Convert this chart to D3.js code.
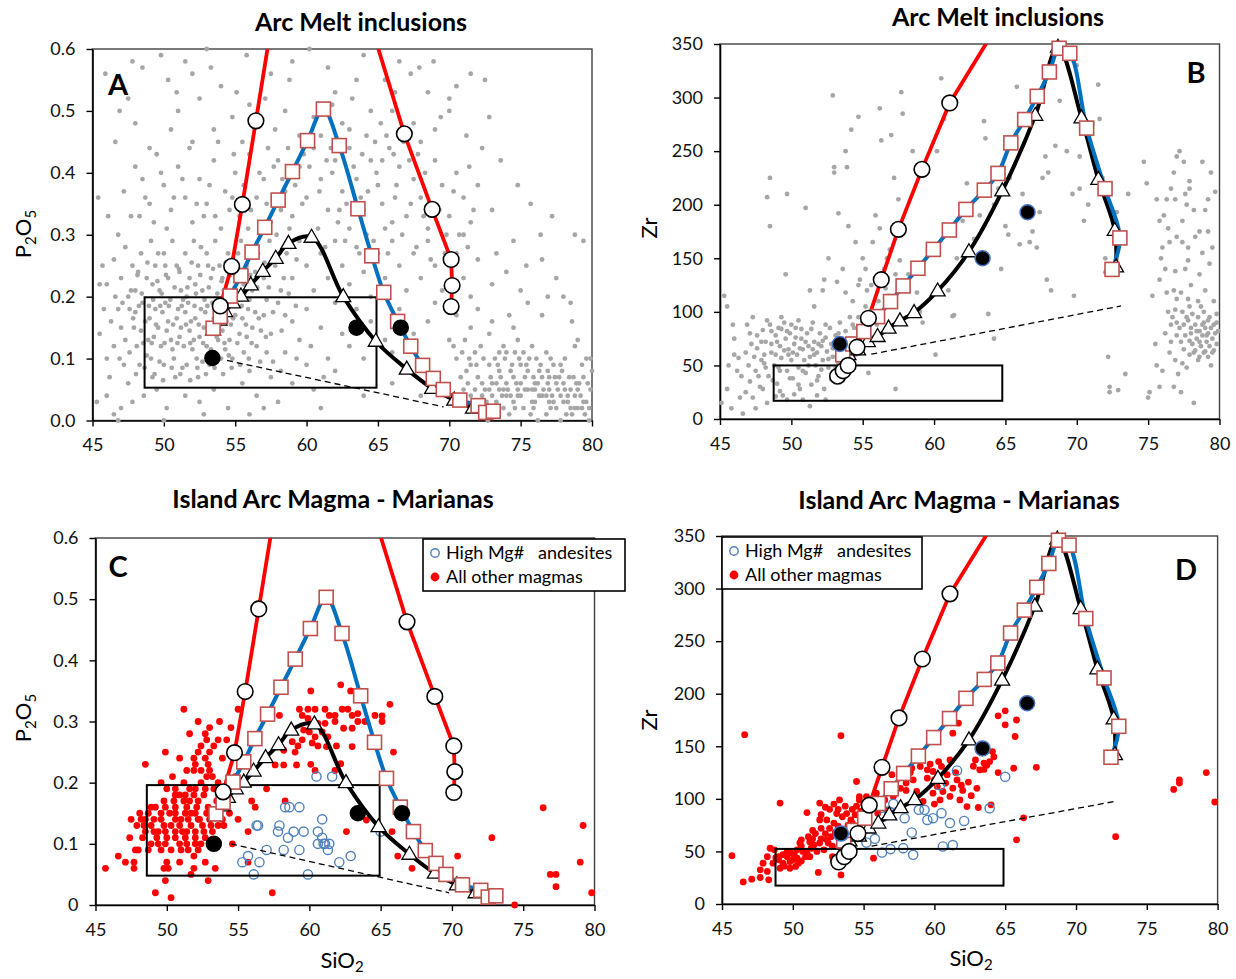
<!DOCTYPE html>
<html>
<head>
<meta charset="utf-8">
<script src="https://cdn.jsdelivr.net/npm/d3@7"></script>
<style>
  body { margin: 0; background: #fff; }
  svg text { font-family: Lato, "Open Sans", sans-serif; }
</style>
</head>
<body>
<svg id="fig" width="1236" height="979"></svg>
<script>

// Axis ticks
const siTicks = [45, 50, 55, 60, 65, 70, 75, 80];
const pTicks = [0, 0.1, 0.2, 0.3, 0.4, 0.5, 0.6];
const zrTicks = [0, 50, 100, 150, 200, 250, 300, 350];

// ---- model curves, P2O5 panels (A, C)
const pRedLeft = [[53.95,0.185],[54.75,0.249],[55.5,0.349],[56.45,0.484],[57.4,0.62]];
const pRedRight = [[64.9,0.61],[66.85,0.463],[68.8,0.341],[70.13,0.26],[70.2,0.218],[70.13,0.184]];
const pSquares = [[53.45,0.149],[53.95,0.168],[54.65,0.201],[55.4,0.234],[56.18,0.272],[57.07,0.312],[58.01,0.356],[59.01,0.402],[60.07,0.452],[61.18,0.503],[62.29,0.444],[63.6,0.342],[64.57,0.266],[65.41,0.207],[66.38,0.16],[67.3,0.12],[68.13,0.089],[68.88,0.068],[69.58,0.05],[70.74,0.033],[72.02,0.024],[72.55,0.013],[73.08,0.015]];
const pTriangles = [[53.45,0.146],[53.9,0.162],[54.29,0.176],[54.84,0.19],[55.4,0.201],[56.09,0.219],[56.93,0.241],[57.84,0.262],[58.73,0.286],[60.35,0.296],[62.57,0.2],[64.85,0.128],[67.02,0.083],[68.8,0.052],[70.35,0.033],[71.66,0.02],[72.77,0.013]];
const pDotsA = [[53.4,0.101],[63.5,0.15],[66.6,0.15]];
const pDotsC = [[53.3,0.1],[63.4,0.15],[66.5,0.15]];
const pDashA = [[54.42,0.097],[69.6,0.022]];
const pDashC = [[54.5,0.1],[69.8,0.02]];
const rectA = [48.65, 64.9, 0.053, 0.199];
const rectC = [48.6, 64.93, 0.048, 0.196];

// ---- model curves, Zr panels (B, D)
const zrRed = [[53.24,40],[53.63,45],[53.98,50],[54.6,67],[55.4,94],[56.3,130],[57.5,177],[59.15,233],[61.1,295],[64.0,358]];
const zrSquares = [[53.6,60],[54.3,70],[55.08,81.6],[56.04,95.6],[56.95,109.6],[57.83,124.2],[58.87,140.7],[59.95,158.3],[61.07,176.4],[62.23,195.6],[63.52,213.6],[64.48,229.2],[65.38,257.7],[66.35,279.5],[67.23,301.2],[68.08,323.9],[68.76,346],[69.51,341.3],[70.69,271.5],[71.98,215],[73.02,169],[72.47,139.6]];
const zrTriangles = [[54.0,60],[54.67,64.5],[55.36,72.3],[56.04,77],[56.81,84.8],[57.61,91.6],[58.6,99.3],[60.25,119.5],[62.44,156.1],[64.78,212.9],[67.09,283.3],[68.68,347],[70.33,281],[71.51,223.6],[72.66,176],[72.75,142]];
const zrDotsB = [[53.4,70],[63.4,150],[66.55,193]];
const zrDotsD = [[53.4,67],[63.4,148],[66.55,191]];
const zrDashB = [[55.6,60.5],[73.1,105.5]];
const zrDashD = [[55.56,55],[72.8,97.7]];
const rectB = [48.76, 64.78, 17, 50];
const rectD = [48.78, 64.88, 17.5, 52.4];

// ---- arc melt inclusions (gray), panel A
const grayA = [
[48.5,0.57],[49.8,0.59],[50.3,0.55],[51.5,0.58],[52.0,0.56],[53.0,0.6],[52.5,0.52],[54.0,0.54],[55.8,0.59],[57.5,0.56],[58.5,0.5],[59.0,0.58],[60.2,0.6],[61.5,0.57],[62.0,0.53],[63.5,0.55],[64.0,0.59],[64.5,0.5],[65.5,0.55],[66.5,0.58],[67.3,0.56],[67.9,0.57],[68.5,0.53],[70.0,0.52],[70.5,0.54],[71.5,0.56],[72.5,0.55],[57.8,0.47],[59.5,0.46],[60.5,0.49],[61.0,0.46],[62.5,0.48],[63.0,0.47],[64.2,0.46],[65.2,0.48],[66.0,0.5],[67.5,0.48],[68.0,0.45],[53.5,0.47],[54.8,0.49],[55.5,0.45],[50.5,0.47],[51.0,0.5],[48.0,0.48],[47.5,0.52],[49.0,0.44],[52.0,0.45],[56.0,0.51],[70.0,0.5],[69.0,0.47],
[47.2,0.37],[48.0,0.41],[48.5,0.39],[49.0,0.35],[49.5,0.43],[50.0,0.38],[50.5,0.34],[51.0,0.41],[51.5,0.36],[52.0,0.32],[52.5,0.39],[53.0,0.35],[53.5,0.42],[54.0,0.31],[54.3,0.37],[55.0,0.40],[55.3,0.33],[56.0,0.43],[56.5,0.36],[57.0,0.39],[57.5,0.32],[58.0,0.42],[58.5,0.37],[59.0,0.33],[59.5,0.41],[60.0,0.36],[60.5,0.44],[61.0,0.39],[61.5,0.34],[62.0,0.42],[62.5,0.37],[63.0,0.31],[63.0,0.44],[63.5,0.39],[64.0,0.34],[64.5,0.42],[65.0,0.38],[65.5,0.31],[65.8,0.44],[66.2,0.36],[66.5,0.41],[67.0,0.33],[67.5,0.39],[68.0,0.36],[68.5,0.31],[69.0,0.42],[69.5,0.38],[70.0,0.33],[70.5,0.40],[71.0,0.36],[71.5,0.32],[72.0,0.38],[48.3,0.33],[50.2,0.31],[51.8,0.44],[53.8,0.45],[55.6,0.38],[57.3,0.44],[58.8,0.31],[60.8,0.31],[62.8,0.35],[64.8,0.45],[66.8,0.45],[67.8,0.43],[60.2,0.41],[61.8,0.40],[59.2,0.38],[63.8,0.36],[65.3,0.35],[58.2,0.34],[56.8,0.32],[54.6,0.34],[52.8,0.33],[62.2,0.32],[64.2,0.30],[66.0,0.32],[68.2,0.33],[69.8,0.30],[73.0,0.34],[76.4,0.3],[74.5,0.29],[78.8,0.3],
[46.0,0.22],[46.5,0.26],[47.0,0.23],[47.3,0.28],[47.8,0.25],[48.0,0.21],[48.4,0.27],[48.8,0.23],[49.1,0.29],[49.4,0.25],[49.7,0.21],[50.0,0.27],[50.3,0.23],[50.6,0.29],[50.9,0.25],[51.2,0.21],[51.5,0.27],[51.8,0.23],[52.1,0.29],[52.4,0.25],[52.7,0.21],[53.0,0.27],[53.3,0.23],[53.6,0.29],[53.9,0.25],[54.2,0.21],[54.5,0.27],[55.0,0.23],[55.4,0.29],[55.8,0.25],[56.2,0.21],[56.6,0.27],[57.0,0.23],[57.4,0.29],[57.8,0.25],[58.2,0.21],[58.6,0.27],[59.0,0.23],[59.5,0.29],[60.0,0.25],[60.5,0.21],[61.0,0.27],[61.5,0.23],[62.0,0.29],[62.5,0.25],[63.0,0.22],[63.5,0.28],[64.0,0.24],[64.5,0.2],[65.0,0.27],[65.5,0.23],[66.0,0.29],[66.5,0.25],[67.0,0.21],[67.5,0.27],[68.0,0.23],[68.5,0.29],[69.0,0.25],[69.5,0.21],[70.5,0.27],[71.0,0.23],[71.5,0.2],[72.0,0.26],[73.0,0.22],[74.0,0.24],[75.0,0.21],[76.5,0.26],[77.5,0.23],[78.5,0.19],[48.2,0.24],[49.2,0.22],[50.1,0.25],[51.1,0.24],[52.2,0.22],[53.1,0.25],[54.1,0.23],[49.6,0.27],[51.6,0.2],[52.6,0.28],[54.7,0.2],[55.6,0.22],[56.4,0.24],[57.6,0.26],[58.4,0.23],[59.3,0.26],[47.5,0.2],[46.8,0.3],[45.5,0.22],
[47.6,0.18],[47.9,0.15],[48.1,0.12],[48.3,0.09],[48.5,0.19],[48.7,0.16],[48.9,0.13],[49.1,0.10],[49.2,0.07],[49.4,0.18],[49.6,0.15],[49.8,0.12],[50.0,0.09],[50.1,0.19],[50.3,0.16],[50.5,0.13],[50.7,0.10],[50.8,0.07],[51.0,0.18],[51.2,0.15],[51.4,0.12],[51.6,0.09],[51.7,0.19],[51.9,0.16],[52.1,0.13],[52.3,0.10],[52.4,0.07],[52.6,0.18],[52.8,0.15],[53.0,0.12],[53.2,0.09],[53.4,0.19],[53.6,0.16],[53.8,0.13],[54.0,0.10],[54.2,0.19],[54.4,0.16],[54.6,0.13],[54.8,0.10],[55.0,0.17],[55.3,0.14],[55.6,0.11],[55.9,0.18],[56.2,0.15],[56.5,0.12],[57.0,0.17],[57.5,0.14],[58.0,0.19],[58.5,0.11],[59.0,0.16],[48.0,0.175],[48.4,0.145],[48.8,0.105],[49.0,0.165],[49.3,0.135],[49.7,0.095],[49.9,0.175],[50.2,0.145],[50.6,0.115],[50.9,0.165],[51.1,0.135],[51.3,0.085],[51.5,0.175],[51.8,0.145],[52.0,0.115],[52.2,0.165],[52.5,0.135],[52.7,0.095],[52.9,0.175],[53.1,0.145],[53.3,0.115],[53.5,0.165],[53.7,0.135],[53.9,0.175],[54.1,0.145],[54.3,0.115],[54.5,0.185],[54.7,0.155],[55.2,0.195],[55.5,0.165],[55.8,0.135],[56.0,0.195],[56.4,0.175],[56.8,0.145],[57.2,0.195],[46.5,0.12],[47.0,0.15],[47.2,0.09],[46.8,0.18],[47.5,0.06],[46.0,0.1],[45.5,0.14],[47.8,0.03],[48.6,0.04],[49.5,0.05],[50.2,0.02],[51.5,0.04],[52.5,0.03],[53.5,0.05],[54.5,0.02],[55.5,0.06],[56.5,0.04],[57.5,0.07],[58.0,0.03],[59.0,0.06],[60.0,0.09],[60.5,0.05],[61.5,0.1],[62.0,0.08],[63.0,0.12],[64.0,0.1],[65.5,0.13],[66.5,0.18],[67.5,0.14],[68.5,0.16],[69.0,0.19],[70.0,0.13],[70.5,0.17],[71.5,0.15],[72.0,0.18],[58.5,0.17],[59.5,0.13],[60.0,0.18],[61.0,0.15],[62.0,0.19],[62.5,0.14],[63.5,0.18],[64.5,0.16],[66.0,0.11],[67.0,0.09],[46.8,0.0],[47.0,0.02],[50.0,0.0],[52.8,0.01],[56.0,0.01],[57.0,0.02],[61.0,0.02],[64.0,0.04],[66.0,0.06],[68.0,0.04],[56.0,0.08],[57.2,0.11],[58.2,0.08],[59.3,0.1],[60.3,0.12],[61.2,0.07],
[47.7,0.21],[48.15,0.235],[48.45,0.205],[48.85,0.255],[49.25,0.195],[49.55,0.225],[49.85,0.205],[50.15,0.235],[50.45,0.195],[50.75,0.215],[51.05,0.245],[51.35,0.195],[51.65,0.215],[51.95,0.255],[52.25,0.205],[52.55,0.235],[52.85,0.195],[53.15,0.215],[53.45,0.245],[53.75,0.205],[54.05,0.225],[54.35,0.255],[54.65,0.235],[54.95,0.215],[55.25,0.245],[55.65,0.205],[56.05,0.235],[56.55,0.215],[57.05,0.255],[57.35,0.215],
[47.85,0.165],[48.25,0.185],[48.55,0.125],[48.95,0.185],[49.15,0.125],[49.45,0.155],[49.75,0.185],[50.05,0.125],[50.35,0.185],[50.65,0.155],[50.95,0.125],[51.25,0.185],[51.55,0.155],[51.85,0.125],[52.15,0.185],[52.45,0.155],[52.75,0.125],[53.05,0.185],[53.35,0.155],[53.65,0.105],[53.95,0.155],[54.25,0.125],[54.55,0.105],[54.85,0.165],[55.15,0.125],[55.45,0.185],[55.75,0.155],[56.15,0.125],[56.65,0.165],[57.15,0.135],[57.65,0.175],[58.25,0.145],[58.75,0.205],[59.25,0.185],
[48.05,0.075],[48.65,0.085],[49.35,0.075],[49.95,0.065],[50.55,0.085],[51.15,0.075],[51.85,0.065],[52.35,0.085],[52.95,0.075],[53.55,0.085],[54.15,0.075],[54.75,0.085],[55.35,0.09],[55.95,0.1],[56.75,0.095],[57.65,0.095],[46.3,0.16],[46.6,0.2],[47.1,0.19],[47.3,0.13],[46.9,0.1],[47.6,0.11],[45.8,0.18],[46.2,0.07],
[55.2,0.27],[55.9,0.31],[56.3,0.28],[57.2,0.35],[57.9,0.3],[58.3,0.39],[58.9,0.28],[59.7,0.35],[60.3,0.3],[60.9,0.37],[61.3,0.28],[61.7,0.44],[62.3,0.34],[62.7,0.29],[63.3,0.41],[63.7,0.27],[64.3,0.37],[64.7,0.29],[65.3,0.42],[65.7,0.27],[66.3,0.38],[66.7,0.3],[67.3,0.35],[67.7,0.28],[68.3,0.4],[68.7,0.26],[69.3,0.34],[69.7,0.27],[70.3,0.37],[70.7,0.3],[71.3,0.28],[71.7,0.34],[59.8,0.43],[62.6,0.45],[65.6,0.46],[67.2,0.42],[64.9,0.4],[66.1,0.43],[63.9,0.43],[61.4,0.42],[58.7,0.44],[57.7,0.41],[56.7,0.4],[54.9,0.43],[53.2,0.38],[51.3,0.39],[50.7,0.36],[49.3,0.32],[49.8,0.4],[48.7,0.36],[47.7,0.33],[52.3,0.35],[53.6,0.33],[54.8,0.36],[56.1,0.34],
[70.5,0.1],[71.2,0.08],[71.8,0.11],[72.3,0.06],[72.8,0.09],[73.2,0.1],[73.6,0.07],[74.0,0.11],[74.3,0.08],[74.7,0.06],[75.0,0.09],[75.3,0.07],[75.6,0.1],[76.0,0.06],[76.3,0.08],[76.6,0.05],[77.0,0.07],[77.3,0.09],[77.6,0.05],[78.0,0.06],[78.3,0.04],[78.7,0.07],[79.0,0.05],[79.4,0.03],[79.7,0.06],[71.0,0.05],[71.5,0.04],[72.0,0.03],[72.5,0.05],[73.0,0.04],[73.5,0.05],[74.0,0.04],[74.5,0.03],[75.0,0.04],[75.5,0.05],[76.0,0.03],[76.5,0.04],[77.0,0.03],[77.5,0.02],[78.0,0.03],[78.5,0.02],[79.0,0.02],[79.5,0.01],[73.0,0.06],[74.0,0.06],[75.0,0.06],[76.0,0.05],[77.0,0.05],[73.5,0.08],[74.5,0.07],[75.5,0.08],[76.5,0.07],[77.5,0.06],[78.5,0.05],[72.0,0.07],[71.5,0.09],[70.8,0.07],[73.8,0.02],[75.2,0.02],[76.8,0.01],[78.2,0.01],[74.2,0.01],[72.7,0.0],[76.2,0.0],[79.8,0.0],[77.8,0.0],[75.7,0.01],[79.2,0.04],[78.8,0.04],[77.2,0.04],[76.2,0.06],[75.8,0.03],[74.8,0.05],[73.3,0.03],[72.3,0.02],[80.0,0.08],[79.6,0.1],[78.8,0.12],[77.8,0.09],[76.8,0.11],[75.8,0.12],[74.8,0.13],[73.8,0.12],[72.8,0.14],[76.5,0.17],[75.5,0.19],[74.2,0.17],[73.0,0.16],[79.0,0.13],[78.0,0.2],
[70.9,0.11],[71.4,0.1],[71.9,0.09],[72.4,0.1],[72.9,0.07],[73.4,0.09],[73.9,0.1],[74.4,0.09],[74.9,0.1],[75.4,0.09],[75.9,0.07],[76.4,0.09],[76.9,0.08],[77.4,0.07],[77.9,0.08],[78.4,0.07],[78.9,0.06],[79.4,0.07],[79.9,0.05],[71.3,0.06],[71.8,0.05],[72.3,0.04],[72.8,0.05],[73.3,0.06],[73.8,0.05],[74.3,0.04],[74.8,0.04],[75.3,0.05],[75.8,0.05],[76.3,0.04],[76.8,0.04],[77.3,0.03],[77.8,0.04],[78.3,0.03],[78.8,0.02],[79.3,0.02],[79.8,0.02],[74.6,0.02],[75.9,0.02],[77.1,0.02],[78.6,0.01],[79.6,0.03],[73.1,0.02],[72.6,0.03],[76.9,0.06],[78.1,0.05],[79.1,0.06],[77.7,0.07],[74.1,0.05],[73.7,0.04],[70.3,0.12],[71.1,0.13],[72.2,0.12],[73.5,0.11],[74.6,0.11],[75.2,0.11],[76.1,0.1],[77.1,0.1],[78.1,0.1],[79.3,0.09],[79.9,0.1],
[45.3,0.03],[46.0,0.04],[46.5,0.01],[45.7,0.25],[46.1,0.33],[45.4,0.36],[46.6,0.45],[46.9,0.5],[47.8,0.58],[45.9,0.56],[50.9,0.53],[53.3,0.57],[55.1,0.53],[57.1,0.52],[58.8,0.55],[61.8,0.51],[63.2,0.52],[66.2,0.53],[68.9,0.58],[69.4,0.49],[71.2,0.46],[72.8,0.49],[73.6,0.42],[74.8,0.38],[75.7,0.35],[77.2,0.33],[79.4,0.29],[73.3,0.27],[75.4,0.25],[76.9,0.2],[74.5,0.15],[78.6,0.16],[71.0,0.3],[72.3,0.44],[71.4,0.41]
];

// ---- arc melt inclusions (gray), panel B
const grayB = [
[45.1,15],[45.3,115],[45.5,105],[45.5,28],[46.0,60],[46.3,57],[46.4,20],[46.6,5],[46.8,25],[46.9,88],[47.1,35],[47.2,70],[47.3,95],[47.5,45],[47.6,66],[47.8,30],[47.9,55],[48.0,83],[48.2,72],[48.3,15],[48.4,40],[48.5,88],[48.6,62],[48.8,50],[48.9,78],[49.0,33],[49.1,85],[49.2,68],[49.3,57],[49.4,22],[49.5,90],[49.6,75],[49.7,45],[49.8,65],[49.9,80],[50.0,55],[50.1,38],[50.2,70],[50.3,85],[50.4,60],[50.5,48],[50.6,28],[50.7,75],[50.8,65],[50.9,55],[51.0,43],[51.1,80],[51.2,68],[51.3,58],[51.4,32],[51.5,90],[51.6,72],[51.7,50],[51.8,62],[51.9,40],[52.0,80],[52.1,68],[52.2,55],[52.3,28],[52.4,76],[52.5,63],[52.6,48],[52.7,85],[52.8,70],[52.9,58],[53.0,40],[53.1,78],[53.2,65],[53.3,52],[53.4,90],[53.5,73],[53.6,60],[53.7,45],[53.8,82],[53.9,68],[54.0,55],[54.1,95],[54.2,75],[54.3,62],[54.4,85],[54.6,70],[54.8,78],[55.0,90],[55.2,72],[55.4,82],[55.7,76],[56.0,88],[48.2,48],[48.7,36],[49.2,26],[49.7,18],[50.2,23],[50.8,18],[51.3,12],[51.8,22],[52.4,18],[47.0,50],[47.6,78],[48.1,60],[49.0,72],[49.8,60],[50.6,66],[51.5,65],[52.2,73],[48.6,82],[49.3,84],[50.0,88],[50.7,84],[46.5,40],[47.3,20],[45.8,10],
[46.2,45],[46.8,62],[47.1,80],[47.4,58],[47.7,40],[47.9,72],[48.1,52],[48.3,92],[48.6,70],[48.9,60],[49.1,48],[49.3,95],[49.5,64],[49.7,82],[49.9,38],[50.1,62],[50.3,76],[50.5,92],[50.8,45],[51.0,72],[51.2,50],[51.4,84],[51.6,60],[51.9,70],[52.1,46],[52.4,88],[52.6,56],[52.9,66],[53.1,48],[53.3,80],[53.6,68],[53.8,55],[54.0,72],[54.3,88],[54.5,60],[54.7,95],[55.0,80],[55.2,105],[55.5,92],[55.8,100],[56.1,110],[56.4,98],[56.6,122],[57.0,105],[57.3,135],[55.6,125],[56.9,158],[57.6,148],[55.2,140],[54.7,125],[53.8,118],[53.2,128],[52.2,120],[51.6,105],[49.2,45],[48.0,28],[47.5,10],[48.9,21],[50.5,32],[51.8,36],[52.8,37],[53.6,36],[46.0,75],[45.6,50],[45.9,88],
[48.5,180],[48.5,225],[48.3,207],[49.7,210],[49.6,135],[51.0,197],[51.3,120],[52.3,130],[52.6,150],[52.9,302],[53.0,235],[53.0,230],[53.3,192],[53.6,140],[53.8,250],[53.9,235],[54.0,180],[54.2,270],[54.3,110],[54.5,165],[54.7,282],[54.8,130],[55.0,150],[55.3,120],[55.7,165],[55.9,190],[56.2,178],[56.2,290],[56.3,260],[56.5,140],[56.7,150],[56.8,115],[57.0,265],[57.2,225],[57.5,205],[57.7,305],[57.8,285],[58.2,135],[58.5,250],[58.8,118],[59.0,100],[59.2,90],[60.2,250],[60.5,318],[60.7,280],[61.0,120],[61.4,97],[61.6,150],[62.0,185],[62.3,220],[62.8,168],[63.2,190],[63.5,278],[63.6,262],[63.8,98],[64.2,200],[64.5,215],[64.7,140],[65.0,180],[65.2,172],[65.3,225],[65.8,310],[66.0,163],[66.2,210],[66.4,195],[66.6,195],[66.9,175],[67.2,160],[67.4,193],[67.6,225],[67.8,245],[68.0,230],[68.2,120],[68.5,255],[68.8,297],[69.3,250],[69.7,210],[70.0,330],[70.2,215],[70.5,185],[70.8,200],[71.1,275],[71.5,312],[71.6,280],[71.8,215],[72.0,137],[72.0,150],[72.2,58],[72.3,30],[72.3,25],[72.9,27],[73.4,42],[73.6,210],[71.8,225],[72.8,193],[64.2,75],[57.3,28],[55.4,43],[60.1,60],[61.3,96],[66.7,165],[67.9,130],[69.8,115],[70.2,245],
[74.7,240],[74.9,220],[75.0,20],[75.1,25],[75.3,115],[75.5,70],[75.6,50],[75.8,185],[76.1,190],[76.3,205],[76.6,215],[76.8,230],[77.0,245],[77.2,250],[77.5,240],[77.6,210],[77.7,200],[77.9,215],[78.2,195],[78.6,175],[79.0,195],[79.2,205],[79.4,230],[76.0,160],[76.5,165],[77.0,170],[77.4,165],[77.8,160],[78.3,170],[78.8,155],[79.3,145],[75.8,130],[76.2,140],[76.8,120],[77.3,118],[77.6,140],[78.0,125],[78.5,110],[79.0,120],[79.6,110],[76.4,100],[76.7,95],[77.0,90],[77.2,85],[77.4,100],[77.6,78],[77.8,92],[78.0,80],[78.1,70],[78.3,88],[78.4,75],[78.5,95],[78.6,82],[78.7,68],[78.8,78],[78.9,90],[79.0,85],[79.1,72],[79.2,80],[79.3,95],[79.4,85],[79.5,75],[79.6,88],[79.7,80],[79.8,70],[79.9,82],[77.5,65],[77.9,60],[78.2,62],[78.6,58],[79.0,63],[76.9,55],[77.4,52],[77.7,48],[77.1,42],[76.5,62],[76.0,45],[75.8,30],[76.8,30],[77.3,25],[78.2,15],[79.4,50],[78.9,100],[77.9,105],[79.8,98],[78.0,85],[78.8,88],[79.1,78],[78.4,82],[77.9,73],[78.6,72],[79.3,68],[76.6,72],[76.2,80],[79.6,64],[77.0,112],
[77.0,78],[77.3,72],[77.5,88],[77.7,95],[78.1,98],[78.3,64],[78.5,55],[78.9,62],[79.2,58],[79.5,62],[79.8,90],[79.2,92],[78.7,105],[77.8,112],[76.9,102],[76.6,88],[76.3,118],[75.9,150],[76.9,138],[77.8,148],[78.6,135],[79.5,160],[79.2,175],[77.4,185],[76.4,178],[77.9,222],[76.9,205],[75.6,205],[78.8,240],[79.7,212]
];

// ---- Marianas magmas, panel C (P2O5)
const redC = [
[51.2,0.32],[62.2,0.36],[60.1,0.35],[62.9,0.35],[57.9,0.31],[55.0,0.32],[54.5,0.29],[51.6,0.28],[52.7,0.28],[53.6,0.27],[52.4,0.26],[53.3,0.26],[52.2,0.25],[53.0,0.25],[49.9,0.25],[50.9,0.24],[51.9,0.24],[52.7,0.24],[53.9,0.24],[48.5,0.23],[52.0,0.23],[52.9,0.23],[51.9,0.22],[52.4,0.22],[53.0,0.22],[52.8,0.21],[53.2,0.21],[51.2,0.20],[50.6,0.19],[52.0,0.19],[52.7,0.19],[53.3,0.19],[57.0,0.19],[50.6,0.18],[51.3,0.18],[51.9,0.18],[52.6,0.18],[49.8,0.17],[50.5,0.17],[51.2,0.17],[52.2,0.17],[55.95,0.17],[49.2,0.16],[49.9,0.16],[50.6,0.16],[51.4,0.16],[52.1,0.16],[52.9,0.16],[56.2,0.16],[48.1,0.15],[48.7,0.15],[49.6,0.15],[50.6,0.15],[51.3,0.15],[52.0,0.15],[52.8,0.15],[54.4,0.15],[58.3,0.17],[48.5,0.14],[49.1,0.14],[49.6,0.14],[50.6,0.14],[51.5,0.14],[52.2,0.14],[53.0,0.14],[53.9,0.14],[55.0,0.14],[48.4,0.13],[48.9,0.13],[49.8,0.13],[50.9,0.13],[51.7,0.13],[52.5,0.13],[48.5,0.12],[49.1,0.12],[49.9,0.12],[50.6,0.12],[51.4,0.12],[52.0,0.12],[52.6,0.12],[53.2,0.12],[55.7,0.12],[49.3,0.11],[50.0,0.11],[50.6,0.11],[51.3,0.11],[52.0,0.11],[52.7,0.11],[49.4,0.10],[49.9,0.10],[50.9,0.10],[51.4,0.10],[52.0,0.10],[54.6,0.10],[48.0,0.09],[48.7,0.09],[51.0,0.09],[51.5,0.09],[52.2,0.09],[47.8,0.09],[46.6,0.08],[47.1,0.07],[47.7,0.07],[47.7,0.06],[50.0,0.07],[50.9,0.07],[51.9,0.08],[52.7,0.07],[45.7,0.06],[49.8,0.06],[50.1,0.06],[51.9,0.06],[53.4,0.06],[51.7,0.05],[49.9,0.04],[52.9,0.04],[49.2,0.02],[50.3,0.012],[57.4,0.02],[55.7,0.07],
[48.3,0.11],[48.9,0.1],[49.6,0.09],[50.3,0.09],[50.3,0.13],[51.0,0.14],[51.7,0.15],[51.1,0.12],[50.2,0.15],[52.3,0.14],[52.4,0.1],[53.1,0.13],[53.6,0.13],[53.5,0.15],[54.0,0.13],[49.4,0.12],[48.9,0.16],[50.0,0.19],[51.6,0.19],[52.4,0.2],[51.6,0.17],[50.9,0.18],[53.6,0.2],[53.5,0.17],[54.8,0.21],[54.2,0.27],[52.2,0.3],[53.0,0.29],[53.7,0.3],[52.8,0.27],[51.4,0.22],[50.4,0.21],[49.6,0.2],[47.4,0.11],[47.9,0.13],[48.2,0.14],[47.5,0.14],
[59.3,0.32],[59.9,0.32],[60.4,0.32],[61.1,0.32],[61.4,0.31],[61.8,0.31],[62.3,0.32],[62.7,0.32],[63.0,0.31],[59.5,0.31],[59.9,0.305],[60.6,0.297],[61.1,0.297],[61.8,0.30],[62.4,0.289],[63.0,0.289],[59.6,0.286],[60.0,0.283],[60.4,0.275],[60.9,0.283],[61.3,0.275],[59.5,0.27],[60.2,0.265],[60.6,0.26],[61.2,0.259],[61.9,0.26],[59.2,0.26],[58.8,0.267],[58.2,0.253],[59.0,0.25],[57.6,0.229],[58.2,0.229],[59.1,0.229],[60.4,0.22],[62.2,0.231],[63.0,0.259],
[65.65,0.328],[63.4,0.313],[64.6,0.31],[65.1,0.309],[65.1,0.30],[63.9,0.30],[63.4,0.30],[65.9,0.25],[64.0,0.139],[62.6,0.12],[65.8,0.12],[66.2,0.08],[67.2,0.06],[70.4,0.08],[72.8,0.11],[76.4,0.159],[79.2,0.13],[79.0,0.07],[76.9,0.05],[77.3,0.05],[77.3,0.03],[79.8,0.02],[74.4,0.0],[61.8,0.22],[60.1,0.23]
];
const blueC = [[60.5,0.21],[61.6,0.21],[58.3,0.16],[58.6,0.16],[59.3,0.16],[56.3,0.13],[56.4,0.13],[57.9,0.13],[57.8,0.12],[58.5,0.11],[58.9,0.12],[59.6,0.12],[60.6,0.12],[60.9,0.14],[60.9,0.11],[60.6,0.10],[61.1,0.10],[61.0,0.10],[61.3,0.09],[59.3,0.09],[58.2,0.09],[57.0,0.09],[55.7,0.08],[55.3,0.07],[56.5,0.07],[56.1,0.05],[59.9,0.05],[62.1,0.07],[62.9,0.08],[65.0,0.12],[61.4,0.10]];

// ---- Marianas magmas, panel D (Zr)
const redD = [
[46.6,161],[53.4,160],[49.1,96],[51.0,87],[51.9,96],[52.3,92],[52.9,95],[53.3,99],[53.7,93],[52.6,90],[53.1,86],[53.5,83],[53.8,86],[54.2,90],[54.5,93],[54.4,85],[54.7,99],[55.2,102],[51.9,80],[52.4,80],[52.9,77],[52.0,72],[52.6,72],[53.2,74],[54.2,77],[51.6,67],[52.3,67],[51.1,64],[50.6,61],[51.2,59],[51.9,58],[52.4,61],[52.8,55],[50.6,55],[50.3,51.5],[51.0,48.4],[51.7,50],[52.2,51.5],[48.4,53],[48.7,51.5],[49.6,50],[49.9,48.4],[48.2,45],[49.0,45],[49.6,45],[50.3,43.6],[50.9,45],[47.9,38.8],[48.6,38.8],[49.3,38.8],[49.8,40.4],[50.4,38.8],[49.1,34],[49.8,34],[50.2,35.7],[47.7,32.5],[48.2,31],[45.7,46],[46.5,21],[47.1,23.6],[47.7,25.2],[48.3,23],[51.8,30],[52.8,45],[53.4,27.7],[54.5,116.5],[55.7,43.6],[54.7,102],
[60.3,135.5],[60.5,130.8],[59.9,126],[59.5,127.6],[59.0,130.8],[58.4,129.2],[59.5,119.7],[60.2,111.8],[60.6,107],[59.9,105.4],[60.4,99],[61.1,102.3],[61.3,110.2],[61.8,99],[62.3,92.7],[61.6,118],[62.4,116],[63.0,110],[60.9,123],[61.1,137],[62.9,137],[62.75,131],[63.5,134],[63.2,127.6],[63.9,135.5],[64.5,179],[65.0,183.7],[65.0,170.4],[65.8,175],[65.7,159.3],[65.6,129.2],[65.8,61],[63.1,91.8],[64.0,94.3],[61.3,162.5],[58.0,115],[57.6,110],[57.1,102.3],[56.5,99],[55.9,105.4],[55.5,99],[56.6,89.6],[56.0,86.4],[55.2,86.4],[59.2,97.5],[58.75,107],[58.5,118],
[79.2,125],[77.3,118],[77.3,115],[76.9,109],[79.8,97],[72.8,64],[66.3,82],[67.2,130],[61.7,172],
[49.3,47],[49.0,42],[50.1,47],[50.7,50],[51.3,53],[51.5,56],[52.0,62],[52.7,64],[53.0,68],[53.5,70],[53.9,75],[54.1,80],[50.5,58],[51.4,70],[52.0,85],[53.2,90],[50.0,42],[48.8,44],[50.6,41],[51.2,45],[49.4,36],[51.4,62],[52.5,58],[53.6,63],[54.8,88],[55.0,95],[56.3,94],[57.8,120],[58.3,125],[59.7,133],[60.0,118],[60.8,115],[61.5,125],[62.0,108],[63.5,128],[64.2,140],[64.5,125],[63.7,132],[64.1,145],[62.6,103],[60.0,95],[61.9,113],[57.0,123],[58.0,108]
];
const blueD = [[61.6,127],[65.0,121],[63.9,91],[62.1,79],[61.1,77],[60.5,86.4],[59.9,81.6],[59.5,80],[58.4,68],[59.3,89.6],[58.9,89.6],[57.9,81.6],[57.1,95.3],[56.8,88],[56.4,83],[61.3,56],[60.6,54.7],[58.5,46.8],[57.8,53.1],[56.9,52.2],[56.3,49],[55.2,58.5],[60.4,113],[55.8,62],[54.8,67]];

const legendLabels = ["High Mg#   andesites", "All other magmas"];

const RED = "#ff0000", BLUE = "#0070c0", SQ = "#c0504d", GRAY = "#a6a6a6", OPEN = "#4f81bd";

const svg = d3.select("#fig");
svg.append("rect").attr("width", 1236).attr("height", 979).attr("fill", "#fff");

const tri = "M0,-8L7.5,5L-7.5,5Z";

function panel(o) {
  const x = d3.scaleLinear().domain([45, 80]).range([o.left, o.right]);
  const y = d3.scaleLinear().domain(o.yDom).range([o.bottom, o.top]);
  const g = svg.append("g");

  g.append("clipPath").attr("id", "clip" + o.letter)
    .append("rect").attr("x", o.left).attr("y", o.top)
    .attr("width", o.right - o.left).attr("height", o.bottom - o.top);

  // frame
  g.append("rect").attr("x", o.left).attr("y", o.top)
    .attr("width", o.right - o.left).attr("height", o.bottom - o.top)
    .attr("fill", "none").attr("stroke", "#404040").attr("stroke-width", 1.4);

  // axes
  const ax = g.append("g").attr("transform", `translate(0,${o.bottom})`)
    .call(d3.axisBottom(x).tickValues(siTicks).tickSize(6).tickSizeOuter(0).tickPadding(12).tickFormat(d3.format("d")));
  const ay = g.append("g").attr("transform", `translate(${o.left},0)`)
    .call(d3.axisLeft(y).tickValues(o.yTicks).tickSize(6).tickSizeOuter(0).tickPadding(11).tickFormat(o.fmt));
  [ax, ay].forEach(a => {
    a.select(".domain").attr("stroke", "#000").attr("stroke-width", 1.6);
    a.selectAll(".tick line").attr("stroke", "#000").attr("stroke-width", 1.4);
    a.selectAll("text").attr("font-size", 18).attr("fill", "#111")
      .style("font-family", "Lato, 'Open Sans', sans-serif");
  });

  // scatter data
  if (o.gray) {
    g.append("g").selectAll("circle").data(o.gray).join("circle")
      .attr("cx", d => x(d[0])).attr("cy", d => y(d[1])).attr("r", 2.4).attr("fill", GRAY);
  }
  if (o.red) {
    g.append("g").selectAll("circle").data(o.red).join("circle")
      .attr("cx", d => x(d[0])).attr("cy", d => y(d[1])).attr("r", 3.4).attr("fill", RED);
    g.append("g").selectAll("circle").data(o.blue).join("circle")
      .attr("cx", d => x(d[0])).attr("cy", d => y(d[1])).attr("r", 4.6)
      .attr("fill", "none").attr("stroke", OPEN).attr("stroke-width", 1.4);
  }

  // box and dashed trend
  g.append("rect").attr("x", x(o.rect[0])).attr("y", y(o.rect[3]))
    .attr("width", x(o.rect[1]) - x(o.rect[0])).attr("height", y(o.rect[2]) - y(o.rect[3]))
    .attr("fill", "none").attr("stroke", "#000").attr("stroke-width", 2);
  g.append("line").attr("x1", x(o.dash[0][0])).attr("y1", y(o.dash[0][1]))
    .attr("x2", x(o.dash[1][0])).attr("y2", y(o.dash[1][1]))
    .attr("stroke", "#000").attr("stroke-width", 1.3).attr("stroke-dasharray", "6,4");

  // model lines
  const lines = g.append("g").attr("clip-path", `url(#clip${o.letter})`);
  const smooth = d3.line().x(d => x(d[0])).y(d => y(d[1])).curve(d3.curveCatmullRom.alpha(0.5));
  const straight = d3.line().x(d => x(d[0])).y(d => y(d[1]));
  lines.append("path").attr("d", smooth(o.tri)).attr("fill", "none").attr("stroke", "#000").attr("stroke-width", 4);
  lines.append("path").attr("d", smooth(o.sq)).attr("fill", "none").attr("stroke", BLUE).attr("stroke-width", 4);
  o.redLines.forEach(r => {
    lines.append("path").attr("d", straight(r)).attr("fill", "none").attr("stroke", RED).attr("stroke-width", 3.8);
  });

  // markers
  g.append("g").selectAll("path").data(o.tri).join("path")
    .attr("d", tri).attr("transform", d => `translate(${x(d[0])},${y(d[1])})`)
    .attr("fill", "#fff").attr("stroke", "#000").attr("stroke-width", 1.3);
  g.append("g").selectAll("rect").data(o.sq).join("rect")
    .attr("x", d => x(d[0]) - 7).attr("y", d => y(d[1]) - 7).attr("width", 14).attr("height", 14)
    .attr("fill", "#fff").attr("stroke", SQ).attr("stroke-width", 1.6);
  g.append("g").selectAll("circle").data(o.circles).join("circle")
    .attr("cx", d => x(d[0])).attr("cy", d => y(d[1])).attr("r", 7.8)
    .attr("fill", "#fff").attr("stroke", "#000").attr("stroke-width", 1.6);
  g.append("g").selectAll("circle").data(o.dots).join("circle")
    .attr("cx", d => x(d[0])).attr("cy", d => y(d[1])).attr("r", 7.5)
    .attr("fill", "#000").attr("stroke", o.dotStroke).attr("stroke-width", 1.5);

  // title, letter
  g.append("text").attr("x", o.titleX).attr("y", o.titleY).attr("text-anchor", "middle")
    .attr("font-size", 25).attr("font-weight", "bold").text(o.title);
  g.append("text").attr("x", o.letterX).attr("y", o.letterY).attr("text-anchor", "middle")
    .attr("font-size", 29).attr("font-weight", "bold").text(o.letter);

  // y title
  const yt = g.append("text").attr("transform", `translate(${o.yTitleX},${o.yTitleY}) rotate(-90)`)
    .attr("text-anchor", "middle").attr("font-size", 22);
  if (o.yTitle === "P2O5") {
    yt.append("tspan").text("P");
    yt.append("tspan").attr("font-size", 15).attr("dy", 5).text("2");
    yt.append("tspan").attr("dy", -5).text("O");
    yt.append("tspan").attr("font-size", 15).attr("dy", 5).text("5");
  } else {
    yt.text(o.yTitle);
  }
  // x title
  if (o.xTitle) {
    const xt = g.append("text").attr("x", o.xTitleX).attr("y", o.xTitleY)
      .attr("text-anchor", "middle").attr("font-size", 22);
    xt.append("tspan").text("SiO");
    xt.append("tspan").attr("font-size", 15).attr("dy", 4).text("2");
  }

  // legend
  if (o.legend) {
    const L = o.legend;
    const lg = g.append("g");
    lg.append("rect").attr("x", L.x).attr("y", L.y).attr("width", L.w).attr("height", L.h)
      .attr("fill", "#fff").attr("stroke", "#000").attr("stroke-width", 1.6);
    lg.append("circle").attr("cx", L.x + 12).attr("cy", L.y + 14).attr("r", 4.2)
      .attr("fill", "none").attr("stroke", OPEN).attr("stroke-width", 1.4);
    lg.append("circle").attr("cx", L.x + 12).attr("cy", L.y + 38).attr("r", 4.4).attr("fill", RED);
    lg.selectAll("text").data(legendLabels).join("text")
      .attr("x", L.x + 23).attr("y", (d, i) => L.y + 20 + i * 24)
      .attr("font-size", 18).style("white-space", "pre").text(d => d);
  }
}

const fmtP = d => d.toFixed(1);
const fmtPC = d => d === 0 ? "0" : d.toFixed(1);

panel({
  letter: "A", left: 92.5, right: 592, top: 49, bottom: 420.5,
  yDom: [0, 0.6], yTicks: pTicks, fmt: fmtP,
  gray: grayA, rect: rectA, dash: pDashA,
  tri: pTriangles, sq: pSquares, redLines: [pRedLeft, pRedRight],
  circles: pRedLeft.slice(0, -1).concat(pRedRight.slice(1)),
  dots: pDotsA, dotStroke: "#000",
  title: "Arc Melt inclusions", titleX: 361, titleY: 31,
  letterX: 118, letterY: 95, yTitle: "P2O5", yTitleX: 31, yTitleY: 234
});
panel({
  letter: "B", left: 720, right: 1219.5, top: 44, bottom: 419,
  yDom: [0, 350], yTicks: zrTicks, fmt: d3.format("d"),
  gray: grayB, rect: rectB, dash: zrDashB,
  tri: zrTriangles, sq: zrSquares, redLines: [zrRed],
  circles: zrRed.slice(0, -1),
  dots: zrDotsB, dotStroke: "#4472c4",
  title: "Arc Melt inclusions", titleX: 998, titleY: 26,
  letterX: 1196, letterY: 83, yTitle: "Zr", yTitleX: 657, yTitleY: 228
});
panel({
  letter: "C", left: 95.5, right: 594.5, top: 538, bottom: 905,
  yDom: [0, 0.6], yTicks: pTicks, fmt: fmtPC,
  red: redC, blue: blueC, rect: rectC, dash: pDashC,
  tri: pTriangles, sq: pSquares, redLines: [pRedLeft, pRedRight],
  circles: pRedLeft.slice(0, -1).concat(pRedRight.slice(1)),
  dots: pDotsC, dotStroke: "#000",
  title: "Island Arc Magma - Marianas", titleX: 333, titleY: 508,
  letterX: 118, letterY: 577, yTitle: "P2O5", yTitleX: 31, yTitleY: 718,
  xTitle: true, xTitleX: 342, xTitleY: 968,
  legend: { x: 423, y: 539, w: 202, h: 52 }
});
panel({
  letter: "D", left: 722, right: 1217.6, top: 536, bottom: 904,
  yDom: [0, 350], yTicks: zrTicks, fmt: d3.format("d"),
  red: redD, blue: blueD, rect: rectD, dash: zrDashD,
  tri: zrTriangles, sq: zrSquares, redLines: [zrRed],
  circles: zrRed.slice(0, -1),
  dots: zrDotsD, dotStroke: "#4472c4",
  title: "Island Arc Magma - Marianas", titleX: 959, titleY: 509,
  letterX: 1186, letterY: 580, yTitle: "Zr", yTitleX: 657, yTitleY: 720,
  xTitle: true, xTitleX: 971, xTitleY: 966,
  legend: { x: 722, y: 537, w: 200, h: 52 }
});
</script>
</body>
</html>
